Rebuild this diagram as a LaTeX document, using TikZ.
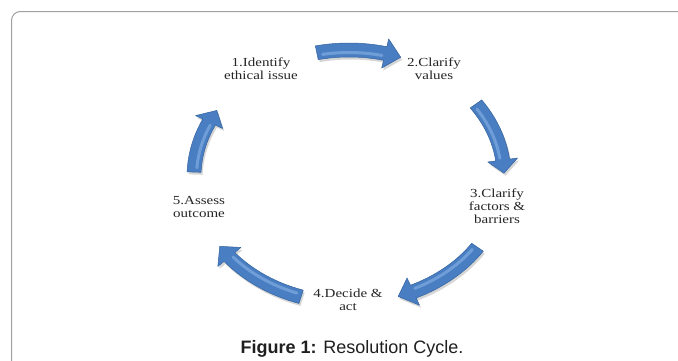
\documentclass[tikz,border=0pt]{standalone}
\usepackage{fontspec}
\newfontfamily\labelfont{Liberation Serif}
\newfontfamily\capfont{Liberation Sans}
\usetikzlibrary{calc,shadows}
\definecolor{arrowblue}{HTML}{4A7EC2}
\definecolor{arrowdark}{HTML}{34649F}
\definecolor{arrowlight}{HTML}{8DB8EA}
\definecolor{framegray}{HTML}{A0A0A0}
\tikzset{
  arrowfill/.style={fill=arrowblue, draw=arrowdark, line width=0.5pt, line join=round,
    drop shadow={shadow xshift=1.5pt, shadow yshift=-2.5pt, opacity=0.16, fill=black}},
  highlight/.style={draw=arrowlight, line width=3pt, line cap=round, opacity=0.55},
  lbl/.style={font=\fontsize{12.3}{13}\selectfont\labelfont, align=center, xscale=1.22,
    text=black!85, inner sep=0pt},
  capstyle/.style={font=\fontsize{18}{20}\selectfont\capfont, text=black!88, anchor=base, inner sep=0pt},
  frame/.style={draw=framegray, line width=1pt, rounded corners=9pt}
}
\newcommand\cyclarrow[2]{% #1 start angle, #2 angle of head base
  \pgfmathsetmacro\tipang{#2-6}
  \pgfmathsetmacro\hlstart{#1-2}
  \pgfmathsetmacro\hlend{#2+1}
  \fill[arrowfill] ($(C)+(#1:162pt and 133.5pt)$)
     arc[start angle=#1, end angle=#2, x radius=162pt, y radius=133.5pt]
     -- ($(C)+(#2:170pt and 141.5pt)$)
     -- ($(C)+(\tipang:155pt and 126.5pt)$)
     -- ($(C)+(#2:140pt and 111.5pt)$)
     -- ($(C)+(#2:148pt and 119.5pt)$)
     arc[start angle=#2, end angle=#1, x radius=148pt, y radius=119.5pt]
     -- cycle;
  \draw[highlight] ($(C)+(\hlstart:152.5pt and 124pt)$)
     arc[start angle=\hlstart, end angle=\hlend, x radius=152.5pt, y radius=124pt];
}
\begin{document}
\begin{tikzpicture}[x=1pt,y=1pt]
\useasboundingbox (0,0) rectangle (678,360);
\clip (0,0) rectangle (678,360);
\fill[white] (0,0) rectangle (678,360);
\draw[frame] (11.5,-30) rectangle (720,348.5);
\coordinate (C) at (349,183.5);
% arrows (clockwise)
\cyclarrow{102}{76.5}
\cyclarrow{35}{7.5}
\cyclarrow{-34}{-65.5}
\cyclarrow{-108}{-140.5}
\cyclarrow{178}{154.5}
% labels
\node[lbl] (n1) at (261,291) {1.Identify\\ethical issue};
\node[lbl] (n2) at (434,291) {2.Clarify\\values};
\node[lbl] (n3) at (497,153.5) {3.Clarify\\factors \&\\barriers};
\node[lbl] (n4) at (348,60) {4.Decide \&\\act};
\node[lbl] (n5) at (199,153.5) {5.Assess\\outcome};
\node[capstyle] (cap) at (352,7) {\textbf{Figure 1:} Resolution Cycle.};
\end{tikzpicture}
\end{document}
